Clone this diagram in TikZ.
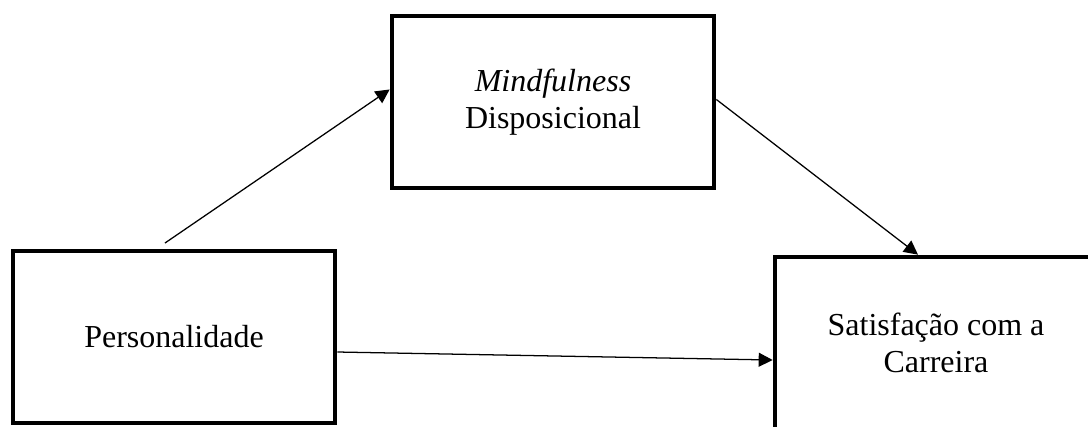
\documentclass[tikz,border=0pt]{standalone}
\usepackage{fontspec}
\setmainfont{Liberation Serif}
\usetikzlibrary{positioning, arrows.meta}
\tikzset{
    >={Triangle[length=10.5pt,width=10.5pt]}, % filled triangle heads
    box/.style={draw, line width=3.5pt, minimum width=241.5pt, minimum height=129pt,
        align=center, font=\fontsize{24}{27.5}\selectfont}, % the three variables
    link/.style={->, line width=0.95pt}, % the paths between them
}

\begin{document}
\begin{tikzpicture}
    \useasboundingbox (0,0) rectangle (816pt,-319.5pt);
    \node[box] (pers) at (130.5pt,-252.75pt) {Personalidade};
    \node[box, above right=43.75pt and 39.25pt of pers] (mind) {\textit{Mindfulness}\\Disposicional};
    \node[box, below right=48.25pt and 42.25pt of mind] (sat) {Satisfação com a\\Carreira};
    \coordinate (start) at ([shift={(-6.75pt,4.25pt)}]pers.north);
    \draw[link] (start) -- ([yshift=9.4pt]mind.west);
    \draw[link] ([yshift=1.9pt]mind.east) -- ([xshift=-13.5pt]sat.north);
    \draw[link] ([yshift=-11.25pt]pers.east) -- ([yshift=-12.75pt]sat.west);
\end{tikzpicture}
\end{document}
